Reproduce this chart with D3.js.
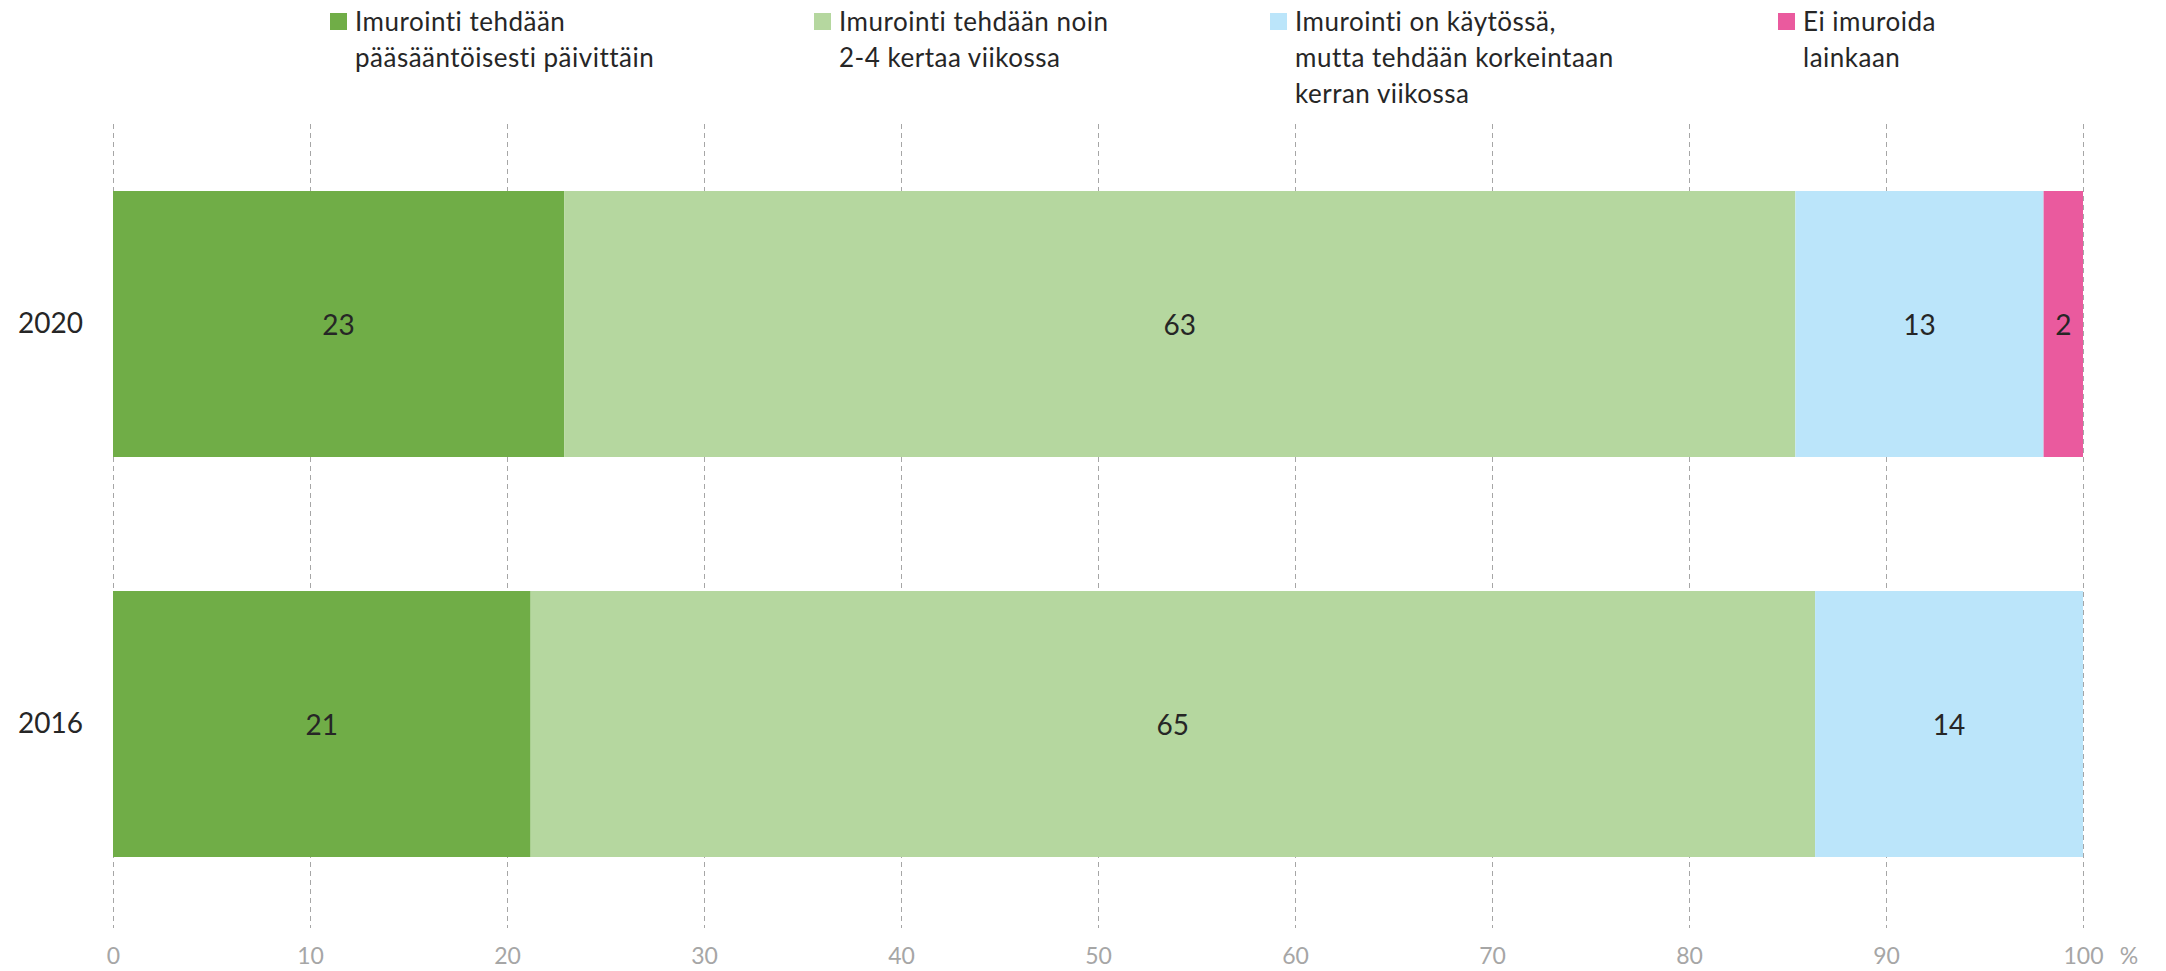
<!DOCTYPE html>
<html>
<head>
<meta charset="utf-8">
<script src="https://cdn.jsdelivr.net/npm/d3@7"></script>
<style>
  html, body { margin: 0; padding: 0; background: #fff; }
  svg { display: block; }
  text { font-family: Lato, "Open Sans", sans-serif; }
</style>
</head>
<body>
<svg id="chart" width="2166" height="971"></svg>
<script>
// ---- data ----
const years = ["2020", "2016"];
const seriesNames = [
  ["Imurointi tehdään", "pääsääntöisesti päivittäin"],
  ["Imurointi tehdään noin", "2-4 kertaa viikossa"],
  ["Imurointi on käytössä,", "mutta tehdään korkeintaan", "kerran viikossa"],
  ["Ei imuroida", "lainkaan"]
];
const seriesKeys = ["daily", "weekly24", "weekly1", "never"];
const daily    = [22.9, 21.2];
const weekly24 = [62.5, 65.2];
const weekly1  = [12.6, 13.6];
const never    = [2.0, 0];
const xTicks = [0, 10, 20, 30, 40, 50, 60, 70, 80, 90, 100];
const colors = ["#70ad47", "#b5d79f", "#bbe5fa", "#ea5a9e"];

// ---- build table ----
const table = years.map((y, i) => ({
  year: y, daily: daily[i], weekly24: weekly24[i], weekly1: weekly1[i], never: never[i]
}));
const stack = d3.stack().keys(seriesKeys)(table);

const svg = d3.select("#chart");
const x = d3.scaleLinear().domain([0, 100]).range([113, 2083]);
const y = d3.scaleBand().domain(years).range([124, 924]).paddingInner(0.335).paddingOuter(0.1675);
const color = d3.scaleOrdinal().domain(seriesKeys).range(colors);

// gridlines
svg.append("g").selectAll("line").data(xTicks).join("line")
  .attr("x1", d => x(d) + 0.5).attr("x2", d => x(d) + 0.5)
  .attr("y1", 124).attr("y2", 928)
  .attr("stroke", "#a6a6a6").attr("stroke-width", 1).attr("stroke-dasharray", "5,4");

// bars
const layers = svg.append("g").selectAll("g").data(stack).join("g")
  .attr("fill", d => color(d.key));
layers.selectAll("rect").data(d => d.filter(s => s[1] - s[0] > 0)).join("rect")
  .attr("x", d => x(d[0]))
  .attr("width", d => x(d[1]) - x(d[0]))
  .attr("y", d => y(d.data.year))
  .attr("height", y.bandwidth());

// value labels
const labG = svg.append("g");
stack.forEach(layer => {
  layer.forEach(s => {
    if (s[1] - s[0] <= 0) return;
    labG.append("text")
      .attr("x", (x(s[0]) + x(s[1])) / 2)
      .attr("y", y(s.data.year) + y.bandwidth() / 2)
      .attr("text-anchor", "middle").attr("dominant-baseline", "central")
      .attr("font-size", 28).attr("fill", "#262626")
      .text(Math.round(s[1] - s[0]));
  });
});

// y axis labels (years)
const yAxis = d3.axisLeft(y).tickSize(0).tickPadding(30);
const yg = svg.append("g").attr("transform", `translate(${x(0)},0)`).call(yAxis);
yg.select(".domain").remove();
yg.selectAll("text").attr("font-size", 28).attr("fill", "#262626").attr("font-family", "Lato, sans-serif");

// x axis labels
const xAxis = d3.axisBottom(x).tickValues(xTicks).tickSize(0).tickPadding(0);
const xg = svg.append("g").attr("transform", "translate(0,948)").call(xAxis);
xg.select(".domain").remove();
xg.selectAll("text").attr("font-size", 23).attr("fill", "#a6a6a6").attr("font-family", "Lato, sans-serif")
  .attr("dy", "0.71em");
svg.append("text").attr("x", x(100) + 46).attr("y", 948).attr("dy", "0.71em")
  .attr("text-anchor", "middle").attr("font-size", 23).attr("fill", "#a6a6a6").text("%");

// legend
const legX = [330, 814, 1270, 1778];
const leg = svg.append("g").selectAll("g").data(seriesKeys).join("g")
  .attr("transform", (d, i) => `translate(${legX[i]},0)`);
leg.append("rect").attr("x", 0).attr("y", 13).attr("width", 17).attr("height", 17)
  .attr("fill", d => color(d));
leg.append("text").attr("x", 25).attr("font-size", 26).attr("letter-spacing", "0.5px").attr("fill", "#262626")
  .selectAll("tspan").data((d, i) => seriesNames[i]).join("tspan")
  .attr("x", 25).attr("y", (d, j) => 31 + j * 36).text(d => d);
</script>
</body>
</html>
